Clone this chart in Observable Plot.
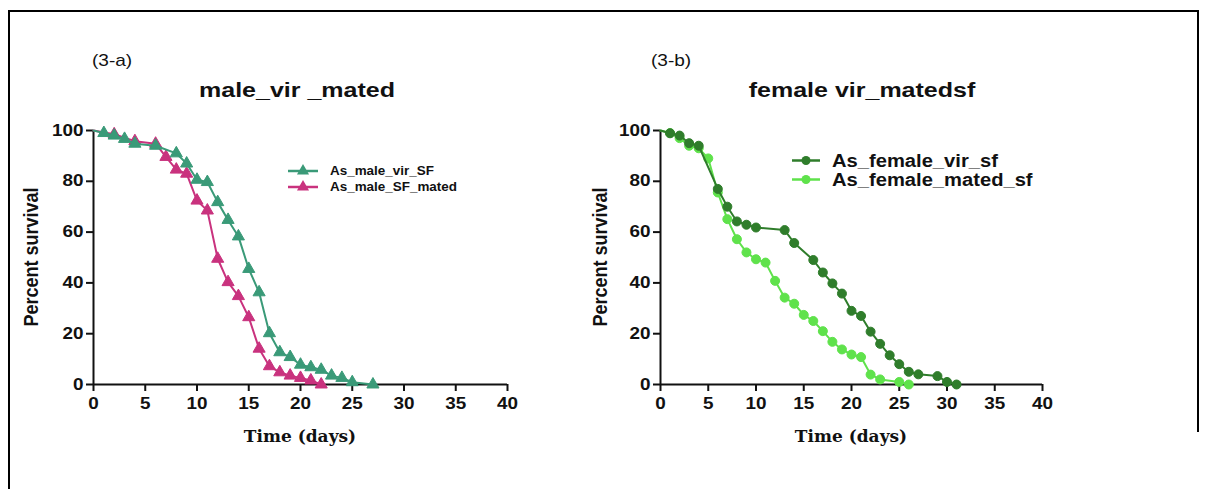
<!DOCTYPE html>
<html><head><meta charset="utf-8">
<script src="https://cdn.jsdelivr.net/npm/d3@7"></script>
<script src="https://cdn.jsdelivr.net/npm/@observablehq/plot@0.6"></script>
<style>
body{margin:0;background:#fff;}
#wrap{position:relative;width:1210px;height:489px;overflow:hidden;background:#fff;font-family:"Liberation Sans",Arial,sans-serif;color:#111;}
.abs{position:absolute;white-space:nowrap;line-height:1;}
.panel{position:absolute;top:0;}
.tag{font-size:17px;font-weight:normal;transform:scaleX(1.12);transform-origin:left center;}
.title{font-size:20px;font-weight:bold;transform:translateX(-50%) scaleX(1.25);}
.ylab{font-size:18px;font-weight:bold;transform:translate(-50%,-50%) rotate(-90deg) scaleX(1.0) scaleY(1.12);}
.xlab{font-family:"DejaVu Serif",serif;font-size:17px;font-weight:bold;transform:translateX(-50%);}
.leg{display:flex;align-items:center;font-weight:bold;}
.leg svg{display:block;}
.border{position:absolute;left:8px;top:10px;width:1187px;height:420px;border-left:2px solid #000;border-top:2px solid #000;border-right:2px solid #000;}
.borderL{position:absolute;left:8px;top:10px;width:0;height:479px;border-left:2px solid #000;}
</style></head><body><div id="wrap">
<div class="border"></div><div class="borderL"></div>
</div><script>
// ---- data ----
const xTicks = [0, 5, 10, 15, 20, 25, 30, 35, 40];
const yTicks = [0, 20, 40, 60, 80, 100];

const maleVirName = "As_male_vir_SF";
const maleVirDays = [0, 1, 2, 3, 4, 6, 8, 9, 10, 11, 12, 13, 14, 15, 16, 17, 18, 19, 20, 21, 22, 23, 24, 25, 27];
const maleVirSurv = [100, 99, 98, 96.7, 94.8, 94, 91, 87, 80.6, 79.7, 71.8, 64.8, 58.3, 45.5, 36.3, 20.2, 12.7, 10.8, 7.8, 6.8, 5.8, 3.5, 2.6, 0.9, 0];

const maleMatedName = "As_male_SF_mated";
const maleMatedDays = [0, 2, 4, 6, 7, 8, 9, 10, 11, 12, 13, 14, 15, 16, 17, 18, 19, 20, 21, 22];
const maleMatedSurv = [100, 98.5, 95.8, 94.8, 89.6, 84.6, 83, 72.4, 68.5, 49.5, 40.3, 34.8, 26.5, 14.1, 7.2, 4.8, 3.5, 2.6, 1.6, 0];

const femVirName = "As_female_vir_sf";
const femVirDays = [0, 1, 2, 3, 4, 6, 7, 8, 9, 10, 13, 14, 16, 17, 18, 19, 20, 21, 22, 23, 24, 25, 26, 27, 29, 30, 31];
const femVirSurv = [100, 98.9, 98, 95, 94, 77, 70, 64.2, 62.9, 61.8, 60.8, 55.7, 49, 44.1, 39.8, 35.8, 29, 27, 20.8, 16, 11.5, 8, 5, 4, 3.3, 1, 0];

const femMatedName = "As_female_mated_sf";
const femMatedDays = [0, 1, 2, 3, 4, 5, 6, 7, 8, 9, 10, 11, 12, 13, 14, 15, 16, 17, 18, 19, 20, 21, 22, 23, 25, 26];
const femMatedSurv = [100, 99, 97, 94, 93, 89, 75.6, 65.1, 57.2, 52, 49.3, 48, 40.8, 34.2, 31.8, 27.4, 25, 21, 16.8, 13.8, 11.8, 10.8, 3.9, 2, 1, 0];

const panelA = {
  tag: "(3-a)", title: "male_vir _mated", symbol: "triangle",
  series: [
    {name: maleMatedName, days: maleMatedDays, surv: maleMatedSurv, color: "#c9327e"},
    {name: maleVirName, days: maleVirDays, surv: maleVirSurv, color: "#3a9a78"}
  ],
  legendOrder: [1, 0]
};
const panelB = {
  tag: "(3-b)", title: "female vir_matedsf", symbol: "circle",
  series: [
    {name: femMatedName, days: femMatedDays, surv: femMatedSurv, color: "#5fe24b"},
    {name: femVirName, days: femVirDays, surv: femVirSurv, color: "#2f7d2b"}
  ],
  legendOrder: [1, 0]
};

// ---- drawing ----
const wrap = document.getElementById("wrap");
function rows(s) { return s.days.map((d, i) => ({day: d, surv: s.surv[i], name: s.name})); }

function makePlot(p, width, ml, mr, r) {
  const marks = [
    Plot.axisX({ticks: xTicks, tickSize: 7, tickPadding: 6, label: null, strokeWidth: 2, fontSize: 16}),
    Plot.axisY({ticks: yTicks, tickSize: 7, tickPadding: 3, label: null, strokeWidth: 2, fontSize: 16}),
    Plot.ruleY([0], {strokeWidth: 2}),
    Plot.ruleX([0], {strokeWidth: 2})
  ];
  for (const s of p.series) {
    const data = rows(s);
    marks.push(Plot.line(data, {x: "day", y: "surv", stroke: s.color, strokeWidth: 2}));
    marks.push(Plot.dot(data.filter(d => d.day > 0), {x: "day", y: "surv", fill: s.color, stroke: s.color, strokeWidth: 1, symbol: p.symbol, r}));
  }
  const svg = Plot.plot({
    width, height: 489, marginLeft: ml, marginRight: mr, marginTop: 130, marginBottom: 105,
    style: {fontFamily: "Liberation Sans, Arial, sans-serif", fontWeight: "bold", color: "#111", background: "transparent", overflow: "visible"},
    x: {domain: [0, 40]},
    y: {domain: [0, 100]},
    marks
  });
  svg.querySelectorAll("text").forEach(t => {
    if (!t.hasAttribute("x")) {
      const tr = t.getAttribute("transform") || "";
      t.setAttribute("transform", tr + " scale(1.18,1)");
    }
  });
  return svg;
}

function addText(cls, txt, left, top, extraStyle) {
  const d = document.createElement("div");
  d.className = "abs " + cls;
  d.textContent = txt;
  d.style.left = left + "px";
  d.style.top = top + "px";
  if (extraStyle) Object.assign(d.style, extraStyle);
  wrap.appendChild(d);
  return d;
}

function addLegend(p, left, top, rowH, fontSize, lineW, textGap, r) {
  p.legendOrder.forEach((idx, k) => {
    const s = p.series[idx];
    const d = document.createElement("div");
    d.className = "abs leg";
    d.style.left = left + "px";
    d.style.top = (top + k * rowH) + "px";
    d.style.height = rowH + "px";
    d.style.fontSize = fontSize + "px";
    const ns = "http://www.w3.org/2000/svg";
    const sv = document.createElementNS(ns, "svg");
    sv.setAttribute("width", lineW); sv.setAttribute("height", rowH);
    const ln = document.createElementNS(ns, "line");
    ln.setAttribute("x1", 0); ln.setAttribute("x2", lineW);
    ln.setAttribute("y1", rowH / 2); ln.setAttribute("y2", rowH / 2);
    ln.setAttribute("stroke", s.color); ln.setAttribute("stroke-width", 2.5);
    sv.appendChild(ln);
    const sym = p.symbol === "triangle" ? d3.symbolTriangle : d3.symbolCircle;
    const path = document.createElementNS(ns, "path");
    path.setAttribute("d", d3.symbol(sym, Math.PI * r * r)());
    path.setAttribute("transform", `translate(${lineW / 2},${rowH / 2})`);
    path.setAttribute("fill", s.color);
    sv.appendChild(path);
    d.appendChild(sv);
    const sp = document.createElement("span");
    sp.textContent = s.name;
    sp.style.marginLeft = textGap + "px";
    sp.style.display = "inline-block";
    sp.style.transform = "scaleX(1.12)";
    sp.style.transformOrigin = "left center";
    d.appendChild(sp);
    wrap.appendChild(d);
  });
}

// panel A
const svgA = makePlot(panelA, 570, 93, 570 - 507, 4.5);
svgA.classList.add("panel"); svgA.style.left = "0px";
wrap.appendChild(svgA);
// panel B
const svgB = makePlot(panelB, 640, 90, 640 - 472, 4.5);
svgB.classList.add("panel"); svgB.style.left = "570px";
wrap.appendChild(svgB);

addText("tag", panelA.tag, 92, 52);
addText("tag", panelB.tag, 651, 52);
addText("title", panelA.title, 297, 80);
addText("title", panelB.title, 862, 80);
addText("ylab", "Percent survival", 31, 257);
addText("ylab", "Percent survival", 600, 257);
addText("xlab", "Time (days)", 300, 428);
addText("xlab", "Time (days)", 851, 428);

addLegend(panelA, 288, 163, 16, 12, 30, 12, 4.5);
addLegend(panelB, 792, 151, 19, 18, 28, 12, 4.5);
</script></body></html>
